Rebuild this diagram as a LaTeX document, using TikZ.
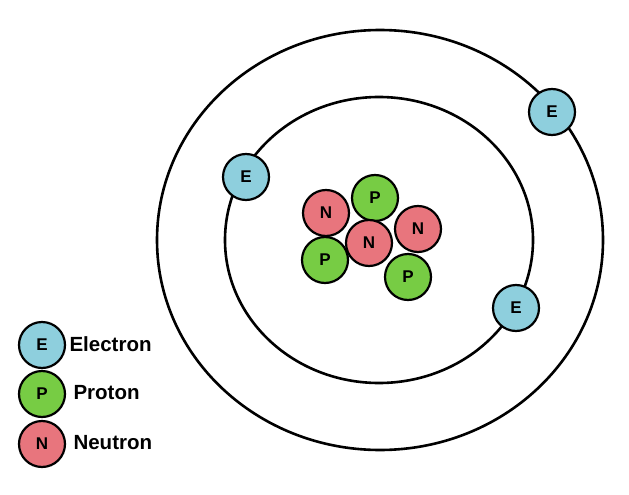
\documentclass[tikz,border=0pt]{standalone}
\usepackage{fontspec}
\setmainfont{Liberation Sans}
\definecolor{eblue}{HTML}{8ECFDD}
\definecolor{pgreen}{HTML}{77CC44}
\definecolor{nred}{HTML}{E8757D}
\begin{document}
\begin{tikzpicture}[x=1pt,y=-1pt,
  part/.style={circle,draw=black,line width=2.2pt,minimum size=46pt,inner sep=0pt,font=\fontsize{17}{17}\selectfont\bfseries},
  el/.style={part,fill=eblue},
  pr/.style={part,fill=pgreen},
  ne/.style={part,fill=nred},
  lab/.style={anchor=west,font=\fontsize{20.5}{20.5}\selectfont\bfseries},
  orbit/.style={draw=black,line width=2.6pt}]
\useasboundingbox (0,0) rectangle (629,495);
\fill[white] (0,0) rectangle (629,495);
\draw[orbit] (380,240) ellipse [x radius=223, y radius=210];
\draw[orbit] (379,240) ellipse [x radius=154, y radius=143];
\node[el] (e1) at (246,177) {E};
\node[el] (e2) at (552,112) {E};
\node[el] (e3) at (516,308) {E};
\node[ne] (n1) at (326,213) {N};
\node[pr] (p1) at (375,198) {P};
\node[ne] (n2) at (418,229) {N};
\node[pr] (p2) at (325,260) {P};
\node[pr] (p3) at (408,277) {P};
\node[ne] (n3) at (369,243) {N};
\node[el] (le) at (42,345) {E};
\node[pr] (lp) at (42,394) {P};
\node[ne] (ln) at (42,444) {N};
\node[lab] (te) at (66,344) {Electron};
\node[lab] (tp) at (70,393) {Proton};
\node[lab] (tn) at (70,443) {Neutron};
\end{tikzpicture}
\end{document}
